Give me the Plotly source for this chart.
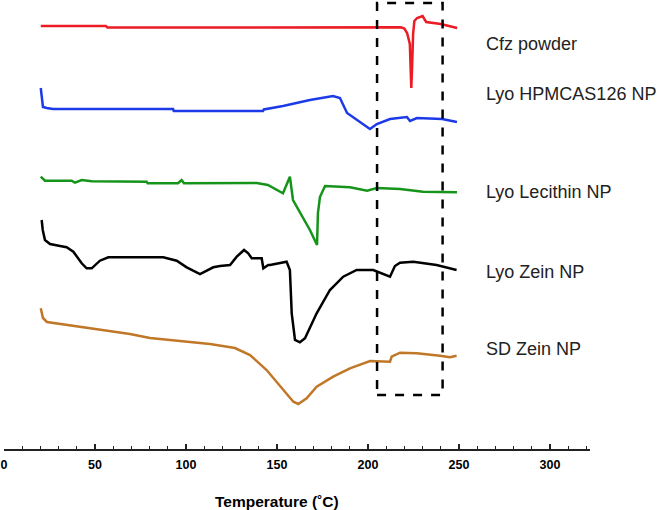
import plotly.graph_objects as go

# Temperature (°C) and stacked heat-flow traces (arbitrary units, offset)
cfz_T = [20.2, 56.0, 56.8, 150, 218.0, 220.0, 221.5, 223.0, 223.8, 224.3, 224.8, 225.5, 227.0, 230.0, 232.0, 240.0, 245.0, 249.0]
cfz_v = [423, 423, 421.5, 421.7, 421.7, 420.5, 416, 405, 361, 385, 415, 428, 431, 433, 427, 425, 423, 421]

hpm_T = [20.2, 20.8, 21.4, 23.5, 26.9, 92.9, 93.3, 142.3, 142.8, 153.3, 168.1, 180.8, 184.6, 188.5, 194.0, 201.1, 204.9, 212.1, 221.4, 223.1, 226.9, 240.7, 248.9]
hpm_v = [361, 352, 342, 341, 340, 340, 338, 338, 339.5, 343, 349, 353, 351, 336, 329, 320, 325, 330, 332, 328, 331, 330, 327]

lec_T = [20.2, 22.5, 37.2, 39.0, 42.7, 48.2, 78.4, 78.9, 95.6, 97.6, 98.9, 138.8, 145.0, 153.3, 157.1, 158.8, 168.1, 172.0, 172.5, 173.6, 176.4, 190.1, 199.5, 204.9, 217.6, 230.2, 248.9]
lec_v = [272.3, 268.3, 268.3, 266.3, 269, 267.7, 267.3, 265.7, 265.7, 269, 265.7, 266, 264, 255.7, 272.3, 249, 219, 204, 236, 252, 263, 261.7, 258.3, 261, 260, 257.3, 256.7]

lz_T = [20.7, 21.3, 22.5, 25.3, 30.8, 34.4, 38.1, 42.7, 45.4, 48.2, 52.7, 57.3, 87.5, 94.9, 100.4, 107.7, 115.0, 118.7, 124.2, 127.9, 131.9, 134.2, 136.1, 141.6, 142.5, 145.2, 146.2, 155.3, 157.1, 158.1, 159.9, 162.6, 165.4, 171.8, 179.1, 186.4, 193.8, 202.9, 212.1, 214.8, 217.6, 224.9, 237.7, 248.7]
lz_v = [229, 219, 209, 205, 203, 201.7, 197.3, 185.7, 180.7, 180.7, 188.3, 191.7, 191.7, 188.3, 181.7, 175, 181.7, 183, 184, 192.3, 199, 195.7, 190.7, 190.7, 180.7, 184, 184, 187.3, 179, 135.7, 109, 106.7, 110.7, 135.7, 159, 172.3, 179, 179, 172.3, 183, 186.3, 187.3, 184, 179]

sd_T = [20.2, 21.4, 23.6, 30.8, 41.8, 52.7, 69.2, 80.2, 96.7, 113.2, 126.9, 135.2, 144.3, 153.5, 159.0, 161.7, 166.3, 171.8, 180.9, 190.1, 201.1, 212.1, 213.0, 217.6, 226.8, 239.6, 245.1, 248.7]
sd_v = [140.7, 131, 127, 125, 122, 119, 115, 111, 108, 105, 101, 94, 79, 59, 47.3, 45, 50.7, 62.3, 72.3, 80.7, 88, 87.3, 92.3, 96.3, 95.7, 93.3, 91.7, 93.3]

names = ["Cfz powder", "Lyo HPMCAS126 NP", "Lyo Lecithin NP", "Lyo Zein NP", "SD Zein NP"]
colors = ["rgb(236,28,36)", "rgb(28,58,232)", "rgb(22,148,26)", "rgb(0,0,0)", "rgb(192,120,40)"]
label_y = [405, 355, 257.3, 177.3, 100]
series = [(cfz_T, cfz_v), (hpm_T, hpm_v), (lec_T, lec_v), (lz_T, lz_v), (sd_T, sd_v)]

box_T = [205, 241]
box_v = [54, 446]

major_ticks = [0, 50, 100, 150, 200, 250, 300]

fig = go.Figure()
for (t, v), c, n in zip(series, colors, names):
    fig.add_trace(go.Scatter(x=t, y=v, mode="lines", name=n,
                             line=dict(color=c, width=2.5), showlegend=False))

for n, y, c in zip(names, label_y, colors):
    fig.add_annotation(x=263.5, y=y, xref="x", yref="y", text=n, showarrow=False,
                       xanchor="left", yanchor="middle",
                       font=dict(family="Liberation Sans, Arial", size=18, color="#222"))

fig.add_shape(type="rect", xref="x", yref="y", x0=box_T[0], x1=box_T[1], y0=box_v[0], y1=box_v[1],
              line=dict(color="black", width=2.5, dash="dash"))

fig.add_annotation(x=150, y=-0.117, xref="x", yref="paper", text="<b>Temperature (˚C)</b>",
                   showarrow=False, xanchor="center", yanchor="middle",
                   font=dict(family="Liberation Sans, Arial", size=15.5, color="black"))

fig.update_layout(
    width=666, height=510,
    margin=dict(l=4, r=76, t=0, b=61),
    paper_bgcolor="white", plot_bgcolor="white",
    xaxis=dict(range=[0, 322], tickvals=major_ticks, ticktext=[str(v) for v in major_ticks],
               showgrid=False, zeroline=False, showline=True, linecolor="#222", linewidth=1.5,
               ticks="inside", ticklen=5, tickwidth=1.5, tickcolor="#222", ticklabelstandoff=3,
               minor=dict(dtick=10, ticks="inside", ticklen=3, tickwidth=1.2, tickcolor="#222"),
               tickfont=dict(family="Liberation Sans, Arial", size=12.5, color="black", weight="bold")),
    yaxis=dict(range=[0, 449], visible=False, showgrid=False, zeroline=False),
)

fig.write_html("out.html", config={"displayModeBar": False},
               post_script="document.body.style.margin='0';document.body.style.overflow='hidden';")
